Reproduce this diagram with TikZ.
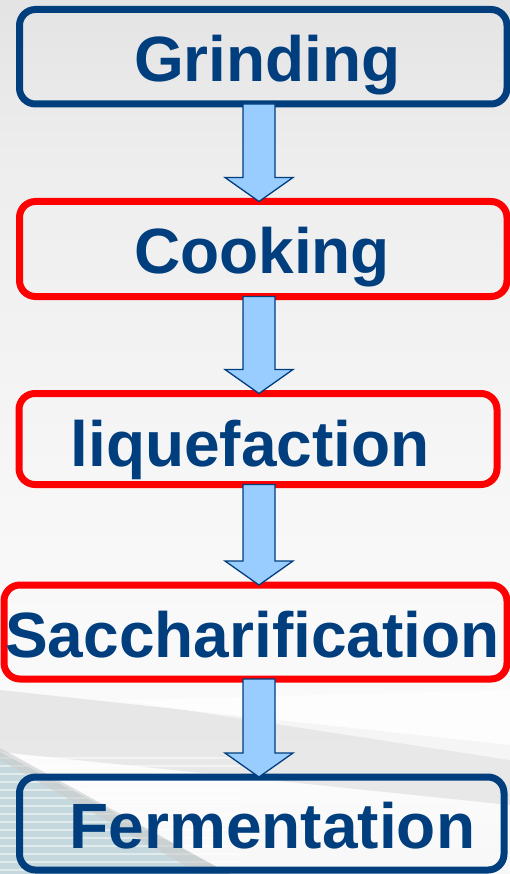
\documentclass[tikz,border=0pt]{standalone}
\usepackage{fontspec}
\setmainfont{Liberation Sans}
\usepackage{xcolor}
\usepackage{tikz}
\usetikzlibrary{calc}
\definecolor{stepblue}{RGB}{0,62,126}
\definecolor{arrowfill}{RGB}{153,204,255}
\definecolor{clothblue}{RGB}{196,216,221}
\pgfdeclareverticalshading{backdrop}{100bp}{color(0bp)=(white!76!gray); color(15bp)=(white!88!gray);
	color(30bp)=(white!97!gray); color(45bp)=(white!94!gray); color(66bp)=(white!86!gray);
	color(85bp)=(white!70!gray); color(100bp)=(gray!48)}
\tikzset{
	stepbox/.style={draw,line width=7pt,rounded corners=16pt,inner sep=0pt,outer sep=0pt},
	bluebox/.style={stepbox,draw=stepblue},
	redbox/.style={stepbox,draw=red},
	steplabel/.style={anchor=base,text=stepblue,inner sep=0pt,font=\fontsize{64}{70}\selectfont\bfseries},
	blockarrow/.style={draw=stepblue,line width=1.3pt,fill=arrowfill,line join=miter}
}
% block arrow from the bottom of one box to the top of the next
\newcommand{\flowarrow}[2]{%
	\draw[blockarrow] ($(#1.south -| axis)+(-16,0)$)--($(#1.south -| axis)+(16,0)$)
		--($(#2.north -| axis)+(16,-24)$)--($(#2.north -| axis)+(34,-24)$)
		--(#2.north -| axis)--($(#2.north -| axis)+(-34,-24)$)
		--($(#2.north -| axis)+(-16,-24)$)--cycle;}

\begin{document}
\begin{tikzpicture}[x=1pt,y=-1pt]
	\useasboundingbox (0,0) rectangle (510,874);
	\begin{scope}
		\clip (0,0) rectangle (510,874);
		\shade[shading=backdrop] (0,0) rectangle (510,874);
		\fill[gray!40,opacity=0.4] (0,690)--(510,745)--(510,805)--(0,752)--cycle;
		\fill[white,opacity=0.6] (120,700)--(510,690)--(510,760)--cycle;
		\fill[clothblue] (0,752)--(230,874)--(0,874)--cycle;
		\foreach \y in {758,766,...,874}
			\draw[white,opacity=0.5,line width=2pt] (0,\y)--(240,\y);
		\fill[gray!40,opacity=0.6] (0,748)--(230,874)--(200,874)--(0,760)--cycle;

		\coordinate (axis) at (259,0);
		\node[bluebox,minimum width=487.5pt,minimum height=94.5pt] (grind) at (263.25,56.75) {};
		\node[redbox,minimum width=487.5pt,minimum height=95pt] (cook) at (263.25,249) {};
		\node[redbox,minimum width=478pt,minimum height=91pt] (liq) at (258,439) {};
		\node[redbox,minimum width=503pt,minimum height=94pt] (sacch) at (255.5,632) {};
		\node[bluebox,minimum width=484.5pt,minimum height=93pt] (ferm) at (261.75,823.5) {};

		\node[steplabel] at (267.5,82) {Grinding};
		\node[steplabel] at (262,273) {Cooking};
		\node[steplabel] at (250,466) {liquefaction};
		\node[steplabel] at (252.5,657) {Saccharification};
		\node[steplabel] at (272.5,848) {Fermentation};

		\flowarrow{grind}{cook}
		\flowarrow{cook}{liq}
		\flowarrow{liq}{sacch}
		\flowarrow{sacch}{ferm}
	\end{scope}
\end{tikzpicture}
\end{document}
